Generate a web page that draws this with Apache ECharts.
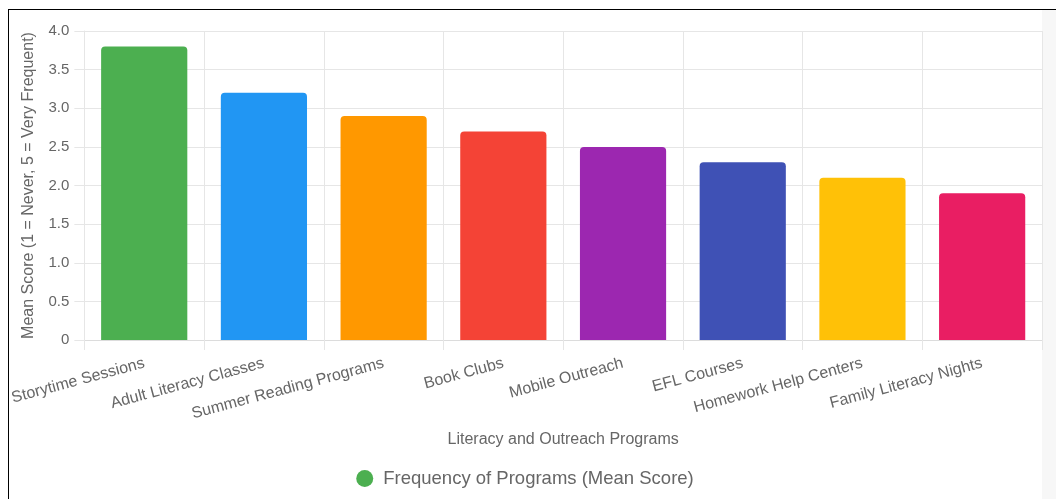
<!DOCTYPE html>
<html>
<head>
<meta charset="utf-8">
<script src="https://cdn.jsdelivr.net/npm/echarts@6/dist/echarts.min.js"></script>
<style>
  html, body { margin: 0; padding: 0; background: #fff; width: 1056px; height: 499px; overflow: hidden; }
  #frame { position: absolute; left: 8px; top: 9px; width: 1048px; height: 490px; border-left: 1px solid #000; border-top: 1px solid #000; box-sizing: border-box; }
  #strip { position: absolute; left: 1042px; top: 10px; width: 14px; height: 489px; background: #f7f7f7; }
  #chart { position: absolute; left: 7px; top: 10px; width: 1036px; height: 489px; }
</style>
</head>
<body>
<div id="frame"></div>
<div id="strip"></div>
<div id="chart"></div>
<script>
// Literacy and outreach programs with their mean frequency scores
const programs = [
  'Storytime Sessions', 'Adult Literacy Classes', 'Summer Reading Programs', 'Book Clubs',
  'Mobile Outreach', 'EFL Courses', 'Homework Help Centers', 'Family Literacy Nights'
];
const meanScores = [3.8, 3.2, 2.9, 2.7, 2.5, 2.3, 2.1, 1.9];
const barColors = ['#4CAF50', '#2196F3', '#FF9800', '#F44336', '#9C27B0', '#3F51B5', '#FFC107', '#E91E63'];
const seriesName = 'Frequency of Programs (Mean Score)';

const gridColor = '#e6e6e6';
const textColor = '#666';
const fontFamily = 'Liberation Sans, Arial, Helvetica, sans-serif';

const chart = echarts.init(document.getElementById('chart'));
chart.setOption({
  animation: false,
  textStyle: { fontFamily: fontFamily },
  grid: { left: 77, right: 1, top: 21, bottom: 159 },
  legend: {
    bottom: 6,
    left: 'center',
    icon: 'circle',
    itemWidth: 17,
    itemHeight: 17,
    itemGap: 10,
    textStyle: { color: textColor, fontSize: 18.5, fontFamily: fontFamily, padding: [0, 0, 0, 5] },
    data: [seriesName]
  },
  xAxis: {
    type: 'category',
    data: programs,
    name: 'Literacy and Outreach Programs',
    nameLocation: 'middle',
    nameGap: 92,
    nameTextStyle: { color: textColor, fontSize: 16, fontFamily: fontFamily },
    axisLine: { show: true, lineStyle: { color: '#dcdcdc', width: 1 } },
    axisTick: { show: true, length: 10, lineStyle: { color: gridColor } },
    splitLine: { show: true, lineStyle: { color: gridColor, width: 1 } },
    axisLabel: { color: textColor, fontSize: 16, rotate: 15, margin: 23, interval: 0, fontFamily: fontFamily }
  },
  yAxis: {
    type: 'value',
    min: 0,
    max: 4,
    interval: 0.5,
    name: 'Mean Score (1 = Never, 5 = Very Frequent)',
    nameLocation: 'middle',
    nameGap: 48,
    nameTextStyle: { color: textColor, fontSize: 16, fontFamily: fontFamily },
    axisLine: { show: true, lineStyle: { color: gridColor } },
    axisTick: { show: true, length: 10, lineStyle: { color: gridColor } },
    splitLine: { show: true, lineStyle: { color: gridColor, width: 1 } },
    axisLabel: {
      color: textColor, fontSize: 15, margin: 15, fontFamily: fontFamily,
      formatter: v => (v === 0 ? '0' : v.toFixed(1))
    }
  },
  series: [{
    name: seriesName,
    type: 'bar',
    barWidth: '72%',
    itemStyle: { color: barColors[0], borderRadius: [4, 4, 0, 0] },
    data: meanScores.map((v, i) => ({ value: v, itemStyle: { color: barColors[i] } }))
  }]
});
</script>
</body>
</html>
